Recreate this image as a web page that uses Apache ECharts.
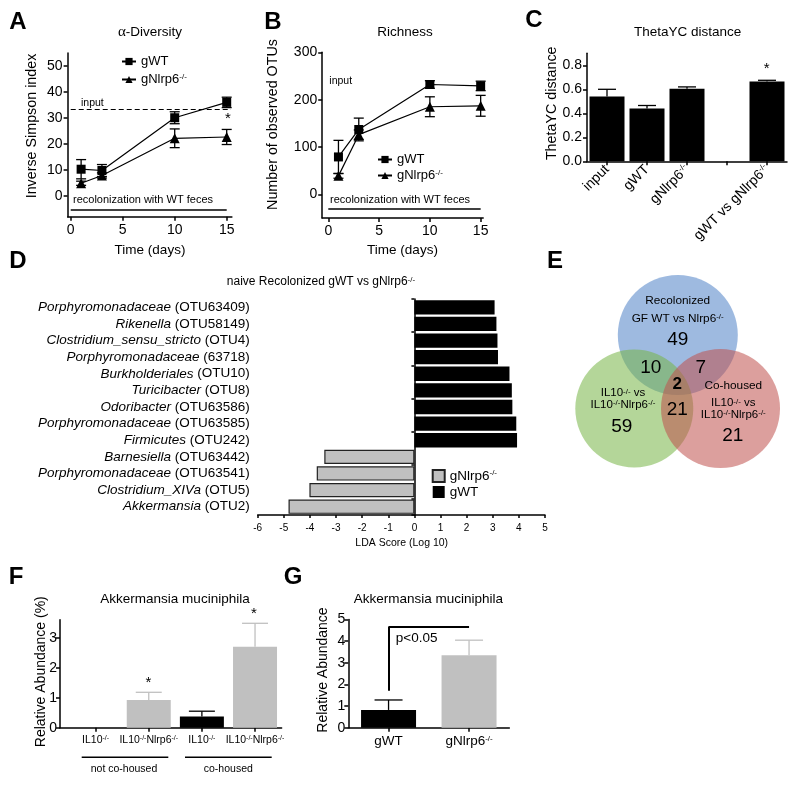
<!DOCTYPE html>
<html>
<head>
<meta charset="utf-8">
<script src="https://cdn.jsdelivr.net/npm/echarts@6.0.0/dist/echarts.min.js"></script>
<style>html,body{margin:0;padding:0;background:#fff}#c{width:800px;height:785px}</style>
</head>
<body>
<div id="c"></div>
<script>
const FONT = '"Liberation Sans", Arial, Helvetica, sans-serif';

// ---------- Panel A : alpha diversity ----------
const days = [1, 3, 10, 15];
const alphaWT = [10.3, 9.8, 30.1, 36.0];
const alphaWTErr = [3.7, 2.3, 2.3, 2.0];
const alphaKO = [4.9, 7.9, 22.2, 22.7];
const alphaKOErr = [0.8, 1.0, 3.6, 2.9];
const alphaInput = 33.5;
const alphaTicks = [0, 10, 20, 30, 40, 50];
const dayTicks = [0, 5, 10, 15];

// ---------- Panel B : richness ----------
const richWT = [79, 137, 232, 229];
const richWTErr = [35, 24, 8, 10];
const richKO = [39, 126, 185, 187];
const richKOErr = [5, 10, 21, 22];
const richInput = 220;
const richTicks = [0, 100, 200, 300];

// ---------- Panel C : ThetaYC ----------
const thetaCats = ['input', 'gWT', 'gNlrp6', '', 'gWT vs gNlrp6'];
const thetaVals = [0.54, 0.44, 0.605, null, 0.665];
const thetaErr = [0.06, 0.025, 0.015, null, 0.01];
const thetaTicks = [0, 0.2, 0.4, 0.6, 0.8];

// ---------- Panel D : LDA ----------
const ldaTaxa = ['Porphyromonadaceae', 'Rikenella', 'Clostridium_sensu_stricto', 'Porphyromonadaceae',
  'Burkholderiales', 'Turicibacter', 'Odoribacter', 'Porphyromonadaceae', 'Firmicutes',
  'Barnesiella', 'Porphyromonadaceae', 'Clostridium_XIVa', 'Akkermansia'];
const ldaOtu = ['(OTU63409)', '(OTU58149)', '(OTU4)', '(63718)', '(OTU10)', '(OTU8)', '(OTU63586)',
  '(OTU63585)', '(OTU242)', '(OTU63442)', '(OTU63541)', '(OTU5)', '(OTU2)'];
const ldaScores = [3.07, 3.14, 3.18, 3.2, 3.64, 3.73, 3.75, 3.9, 3.93, -3.45, -3.74, -4.02, -4.82];

// ---------- Panel E : Venn ----------
const vennCounts = {blue: 49, green: 59, red: 21, blueGreen: 10, blueRed: 7, greenRed: 21, all: 2};

// ---------- Panel F ----------
const akkGroupsF = ['IL10', 'IL10Nlrp6', 'IL10', 'IL10Nlrp6'];
const akkF = [0, 0.92, 0.37, 2.7];
const akkFErr = [0, 0.26, 0.18, 0.78];
const akkFTicks = [0, 1, 2, 3];
const akkFPos = [0, 1, 2, 3];

// ---------- Panel G ----------
const akkGCats = ['gWT', 'gNlrp6'];
const akkG = [0.82, 3.35];
const akkGErr = [0.46, 0.69];
const akkGTicks = [0, 1, 2, 3, 4, 5];

// ================= helpers =================
function merge(a, b) {
  const out = Object.assign({}, a);
  for (const k in b) {
    const bv = b[k], av = a ? a[k] : undefined;
    if (bv && typeof bv === 'object' && !Array.isArray(bv) && av && typeof av === 'object' && !Array.isArray(av)) out[k] = merge(av, bv);
    else out[k] = bv;
  }
  return out;
}
const SUP = {fontSize: 8, verticalAlign: 'top', fontFamily: FONT, color: '#000', fill: '#000'};
const AXIS = {
  axisLine: {show: true, onZero: false, lineStyle: {color: '#000', width: 1.5}},
  axisTick: {show: true, length: 4, lineStyle: {color: '#000', width: 1.5}},
  axisLabel: {color: '#000', fontFamily: FONT, fontSize: 14, margin: 5, rich: {s: SUP}},
  splitLine: {show: false}
};
const ax = o => merge(AXIS, o);
const supName = s => s.replace(/gNlrp6/g, 'gNlrp6{s|-/-}');

function errSeries(xi, yi, rows, colors, cap, upOnly) {
  return {
    type: 'custom', xAxisIndex: xi, yAxisIndex: yi, silent: true, z: 3,
    data: rows,
    renderItem: function (params, api) {
      const x = api.value(0), lo = api.value(1), hi = api.value(2);
      const a = api.coord([x, lo]), b = api.coord([x, hi]);
      const st = {stroke: colors[params.dataIndex], lineWidth: 1.3};
      const ch = [
        {type: 'line', shape: {x1: a[0], y1: a[1], x2: b[0], y2: b[1]}, style: st},
        {type: 'line', shape: {x1: b[0] - cap, y1: b[1], x2: b[0] + cap, y2: b[1]}, style: st}
      ];
      if (!upOnly) ch.push({type: 'line', shape: {x1: a[0] - cap, y1: a[1], x2: a[0] + cap, y2: a[1]}, style: st});
      return {type: 'group', children: ch};
    }
  };
}
function txt(x, y, text, o) {
  o = o || {};
  const al = o.align || 'center';
  return {type: 'text', x: x, y: y, rotation: o.rot || 0, silent: true, z: 100,
    style: {text: text, fontFamily: o.ff || FONT, fontSize: o.fs || 13, fontWeight: o.fw || 'normal',
      fontStyle: o.fst || 'normal', fill: '#000', align: al, textAlign: al,
      verticalAlign: 'middle', textVerticalAlign: 'middle',
      rich: o.rich || {s: SUP}}};
}
function hline(x1, x2, y, w) {
  return {type: 'line', silent: true, shape: {x1: x1, y1: y, x2: x2, y2: y}, style: {stroke: '#000', lineWidth: w || 1.5}};
}
const pairs = (xs, ys) => xs.map((x, i) => [x, ys[i]]);
const errRows = (xs, ys, es) => xs.map((x, i) => [x, ys[i] - es[i], ys[i] + es[i]]);

// ================= option =================
const GREY = '#c0c0c0';
const GROUP_COLOR = {IL10: '#000', IL10Nlrp6: GREY};
const G_COLOR = {gWT: '#000', gNlrp6: GREY};
const ldaLabels = ldaTaxa.map((t, i) => t + ' ' + ldaOtu[i]);
const legFmt = n => n.indexOf('gNlrp6') >= 0 ? 'gNlrp6{s|-/-}' : 'gWT';
const fLabel = g => g === 'IL10' ? 'IL10{s|-/-}' : 'IL10{s|-/-}Nlrp6{s|-/-}';

const thetaIdx = thetaVals.map((v, i) => i).filter(i => thetaVals[i] !== null);
const fIdx = akkFErr.map((e, i) => i).filter(i => akkFErr[i] > 0);

const option = {
  animation: false,
  textStyle: {fontFamily: FONT, color: '#000'},
  grid: [
    {left: 67.6, top: 53, width: 164.3, height: 163.8},
    {left: 322.2, top: 52.3, width: 161, height: 165.7},
    {left: 587, top: 53.3, width: 200, height: 108},
    {left: 257.7, top: 299, width: 287.3, height: 216},
    {left: 60, top: 619.7, width: 221.6, height: 108},
    {left: 348.3, top: 619.4, width: 161, height: 108.3}
  ],
  xAxis: [
    ax({gridIndex: 0, type: 'value', min: -0.3, max: 15.5,
      axisTick: {customValues: dayTicks}, axisLabel: {customValues: dayTicks, margin: 6}}),
    ax({gridIndex: 1, type: 'value', min: -0.6, max: 15.25,
      axisTick: {customValues: dayTicks}, axisLabel: {customValues: dayTicks, margin: 6}}),
    ax({gridIndex: 2, type: 'category', data: thetaCats,
      axisTick: {alignWithLabel: true}, axisLabel: {interval: 0, rotate: 45, margin: 6, formatter: supName}}),
    ax({gridIndex: 3, type: 'value', min: -6, max: 5, interval: 1,
      axisTick: {length: 3}, axisLabel: {fontSize: 10, margin: 8}}),
    ax({gridIndex: 4, type: 'value', min: -0.67, max: 3.5,
      axisTick: {customValues: akkFTicks},
      axisLabel: {customValues: akkFTicks, fontSize: 10.5, margin: 7, rich: {s: merge(SUP, {fontSize: 7})},
        formatter: v => fLabel(akkGroupsF[Math.round(v)])}}),
    ax({gridIndex: 5, type: 'category', data: akkGCats,
      axisTick: {alignWithLabel: true}, axisLabel: {interval: 0, fontSize: 13.5, margin: 7, formatter: supName}})
  ],
  yAxis: [
    ax({gridIndex: 0, type: 'value', min: -8, max: 55,
      axisTick: {customValues: alphaTicks}, axisLabel: {customValues: alphaTicks}}),
    ax({gridIndex: 1, type: 'value', min: -50, max: 300,
      axisTick: {customValues: richTicks}, axisLabel: {customValues: richTicks}}),
    ax({gridIndex: 2, type: 'value', min: 0, max: 0.9,
      axisTick: {customValues: thetaTicks}, axisLabel: {customValues: thetaTicks, formatter: v => v.toFixed(1)}}),
    ax({gridIndex: 3, type: 'category', data: ldaLabels, inverse: true, position: 'left',
      axisLine: {show: false}, axisTick: {show: false},
      axisLabel: {fontSize: 13.5, margin: 8, interval: 0,
        rich: {i: {fontStyle: 'italic', fontSize: 13.5, fontFamily: FONT, color: '#000'}},
        formatter: v => { const k = v.indexOf(' ('); return '{i|' + v.slice(0, k) + '}' + v.slice(k); }}}),
    ax({gridIndex: 3, type: 'category', data: ldaLabels, inverse: true, position: 'left',
      axisLine: {onZero: true}, axisTick: {length: 3}, axisLabel: {show: false}}),
    ax({gridIndex: 4, type: 'value', min: 0, max: 3.6,
      axisTick: {customValues: akkFTicks}, axisLabel: {customValues: akkFTicks, margin: 3}}),
    ax({gridIndex: 5, type: 'value', min: 0, max: 5, interval: 1, axisLabel: {margin: 3}})
  ],
  legend: [
    {orient: 'vertical', left: 121, top: 55, padding: 0, itemGap: 5, itemWidth: 14, itemHeight: 9,
      selectedMode: false, data: ['gWT', 'gNlrp6'], formatter: legFmt,
      textStyle: {fontSize: 13, color: '#000', fontFamily: FONT, rich: {s: SUP}}},
    {orient: 'vertical', left: 377, top: 153, padding: 0, itemGap: 3, itemWidth: 14, itemHeight: 9,
      selectedMode: false, data: ['gWT', 'gNlrp6'], formatter: legFmt,
      textStyle: {fontSize: 13, color: '#000', fontFamily: FONT, rich: {s: SUP}}},
    {orient: 'vertical', left: 431.7, top: 469, padding: 0, itemGap: 2, itemWidth: 12, itemHeight: 12,
      selectedMode: false, data: ['D-gNlrp6', 'D-gWT'], formatter: legFmt, icon: 'rect',
      textStyle: {fontSize: 13.5, color: '#000', fontFamily: FONT, rich: {s: SUP}}}
  ],
  series: [
    // A
    {type: 'line', name: 'gWT', xAxisIndex: 0, yAxisIndex: 0, data: pairs(days, alphaWT),
      symbol: 'rect', symbolSize: 9, itemStyle: {color: '#000'}, lineStyle: {color: '#000', width: 1.2}, z: 5,
      markLine: {silent: true, symbol: 'none', label: {show: false}, animation: false,
        lineStyle: {color: '#000', width: 1.2, type: [5, 3]},
        data: [[{coord: [0, alphaInput]}, {coord: [15.4, alphaInput]}],
               [{coord: [0, -5.1], lineStyle: {type: 'solid', width: 1.6}}, {coord: [15, -5.1]}]]}},
    {type: 'line', name: 'gNlrp6', xAxisIndex: 0, yAxisIndex: 0, data: pairs(days, alphaKO),
      symbol: 'triangle', symbolSize: 10, itemStyle: {color: '#000'}, lineStyle: {color: '#000', width: 1.2}, z: 5},
    errSeries(0, 0, errRows(days, alphaWT, alphaWTErr), days.map(() => '#000'), 5, false),
    errSeries(0, 0, errRows(days, alphaKO, alphaKOErr), days.map(() => '#000'), 5, false),
    // B
    {type: 'line', name: 'gWT', xAxisIndex: 1, yAxisIndex: 1, data: pairs(days, richWT),
      symbol: 'rect', symbolSize: 9, itemStyle: {color: '#000'}, lineStyle: {color: '#000', width: 1.2}, z: 5,
      markLine: {silent: true, symbol: 'none', label: {show: false}, animation: false,
        lineStyle: {color: '#000', width: 1.2, type: [5, 3]},
        data: [[{coord: [-0.2, richInput]}, {coord: [15.3, richInput]}],
               [{coord: [0, -31], lineStyle: {type: 'solid', width: 1.6}}, {coord: [15, -31]}]]}},
    {type: 'line', name: 'gNlrp6', xAxisIndex: 1, yAxisIndex: 1, data: pairs(days, richKO),
      symbol: 'triangle', symbolSize: 10, itemStyle: {color: '#000'}, lineStyle: {color: '#000', width: 1.2}, z: 5},
    errSeries(1, 1, errRows(days, richWT, richWTErr), days.map(() => '#000'), 5, false),
    errSeries(1, 1, errRows(days, richKO, richKOErr), days.map(() => '#000'), 5, false),
    // C
    {type: 'bar', name: 'theta', xAxisIndex: 2, yAxisIndex: 2, barWidth: 35,
      data: thetaVals.map(v => v === null ? '-' : v), itemStyle: {color: '#000'}},
    errSeries(2, 2, thetaIdx.map(i => [i, thetaVals[i], thetaVals[i] + thetaErr[i]]), thetaIdx.map(() => '#000'), 9, true),
    // D
    {type: 'bar', name: 'D-gWT', xAxisIndex: 3, yAxisIndex: 3, barCategoryGap: '14%', barGap: '-100%',
      data: ldaScores.map(v => v > 0 ? v : '-'), itemStyle: {color: '#000'}},
    {type: 'bar', name: 'D-gNlrp6', xAxisIndex: 3, yAxisIndex: 3, barCategoryGap: '14%', barGap: '-100%',
      data: ldaScores.map(v => v < 0 ? v : '-'), itemStyle: {color: GREY, borderColor: '#222', borderWidth: 1.2}},
    // F
    {type: 'bar', name: 'F', xAxisIndex: 4, yAxisIndex: 5, barWidth: 44,
      data: akkF.map((v, i) => ({value: [akkFPos[i], v], itemStyle: {color: GROUP_COLOR[akkGroupsF[i]]}}))},
    errSeries(4, 5, fIdx.map(i => [akkFPos[i], akkF[i], akkF[i] + akkFErr[i]]), fIdx.map(i => GROUP_COLOR[akkGroupsF[i]]), 13, true),
    // G
    {type: 'bar', name: 'G', xAxisIndex: 5, yAxisIndex: 6, barWidth: 55,
      data: akkG.map((v, i) => ({value: v, itemStyle: {color: G_COLOR[akkGCats[i]]}})),
      markLine: {silent: true, symbol: 'none', label: {show: false}, animation: false,
        lineStyle: {color: '#000', width: 2, type: 'solid'},
        data: [[{coord: [0, 1.71]}, {coord: [0, 4.66]}], [{coord: [0, 4.66]}, {coord: [1, 4.66]}]]}},
    errSeries(5, 6, akkG.map((v, i) => [i, v, v + akkGErr[i]]), akkGCats.map(c => G_COLOR[c]), 14, true)
  ],
  graphic: {elements: [
    // panel letters
    txt(18, 22, 'A', {fs: 24, fw: 'bold'}),
    txt(273, 22, 'B', {fs: 24, fw: 'bold'}),
    txt(534, 20, 'C', {fs: 24, fw: 'bold'}),
    txt(18, 261, 'D', {fs: 24, fw: 'bold'}),
    txt(555, 261, 'E', {fs: 24, fw: 'bold'}),
    txt(16, 577, 'F', {fs: 24, fw: 'bold'}),
    txt(293, 577, 'G', {fs: 24, fw: 'bold'}),
    // titles
    txt(150, 32, '{g|α}-Diversity', {fs: 13.5, rich: {g: {fontFamily: '"Liberation Serif", serif', fontSize: 15, fill: '#000'}}}),
    txt(405, 32, 'Richness', {fs: 13.5}),
    txt(687.7, 32, 'ThetaYC distance', {fs: 13.5}),
    txt(321, 282, 'naive Recolonized gWT vs gNlrp6{s|-/-}', {fs: 12}),
    txt(175, 599, 'Akkermansia muciniphila', {fs: 13.5}),
    txt(428.3, 599, 'Akkermansia muciniphila', {fs: 13.5}),
    // axis names
    txt(32, 126, 'Inverse Simpson index', {fs: 14.3, rot: Math.PI / 2}),
    txt(273, 124.5, 'Number of observed OTUs', {fs: 14.3, rot: Math.PI / 2}),
    txt(551.7, 103.3, 'ThetaYC distance', {fs: 14.3, rot: Math.PI / 2}),
    txt(41, 671.7, 'Relative Abundance (%)', {fs: 14, rot: Math.PI / 2}),
    txt(323.3, 670, 'Relative Abundance', {fs: 14, rot: Math.PI / 2}),
    txt(150, 250, 'Time (days)', {fs: 13.5}),
    txt(402.5, 250, 'Time (days)', {fs: 13.5}),
    txt(401.7, 543, 'LDA Score (Log 10)', {fs: 10.5}),
    // annotations A/B
    txt(81, 103, 'input', {fs: 10.5, align: 'left'}),
    txt(329.3, 80.7, 'input', {fs: 10.5, align: 'left'}),
    txt(73, 200, 'recolonization with WT feces', {fs: 11, align: 'left'}),
    txt(330, 200, 'recolonization with WT feces', {fs: 11, align: 'left'}),
    txt(228, 119, '*', {fs: 15}),
    txt(766.7, 69, '*', {fs: 15}),
    // F annotations
    txt(148.3, 683, '*', {fs: 15}),
    txt(254, 614, '*', {fs: 15}),
    hline(81.7, 168.3, 757.3, 1.5),
    hline(185, 271.7, 757.3, 1.5),
    txt(124, 769.3, 'not co-housed', {fs: 10.5}),
    txt(228.3, 769.3, 'co-housed', {fs: 10.5}),
    // G annotation
    txt(416.7, 638.3, 'p<0.05', {fs: 13.5}),
    // Venn
    {type: 'circle', silent: true, z: 50, shape: {cx: 677.8, cy: 335, r: 60}, style: {fill: 'rgba(79,129,199,0.55)'}},
    {type: 'circle', silent: true, z: 50, shape: {cx: 634.3, cy: 408.5, r: 59}, style: {fill: 'rgba(118,180,70,0.55)'}},
    {type: 'circle', silent: true, z: 50, shape: {cx: 720.5, cy: 408.5, r: 59.5}, style: {fill: 'rgba(192,80,77,0.55)'}},
    txt(677.7, 301, 'Recolonized', {fs: 11.8}),
    txt(677.7, 318.3, 'GF WT vs Nlrp6{s|-/-}', {fs: 11.8}),
    txt(677.7, 339.3, String(vennCounts.blue), {fs: 19}),
    txt(650.7, 367.7, String(vennCounts.blueGreen), {fs: 19}),
    txt(700.7, 368, String(vennCounts.blueRed), {fs: 19}),
    txt(677.3, 384.3, String(vennCounts.all), {fs: 17, fw: 'bold'}),
    txt(677.3, 410, String(vennCounts.greenRed), {fs: 19}),
    txt(623, 393.3, 'IL10{s|-/-} vs', {fs: 11.5}),
    txt(623, 405, 'IL10{s|-/-}Nlrp6{s|-/-}', {fs: 11.5}),
    txt(621.7, 426.7, String(vennCounts.green), {fs: 19}),
    txt(733.3, 385.7, 'Co-housed', {fs: 11.8}),
    txt(733.3, 403.3, 'IL10{s|-/-} vs', {fs: 11.5}),
    txt(733.3, 415, 'IL10{s|-/-}Nlrp6{s|-/-}', {fs: 11.5}),
    txt(732.7, 435.7, String(vennCounts.red), {fs: 19})
  ]}
};

const chart = echarts.init(document.getElementById('c'), null, {renderer: 'canvas'});
chart.setOption(option);
</script>
</body>
</html>
